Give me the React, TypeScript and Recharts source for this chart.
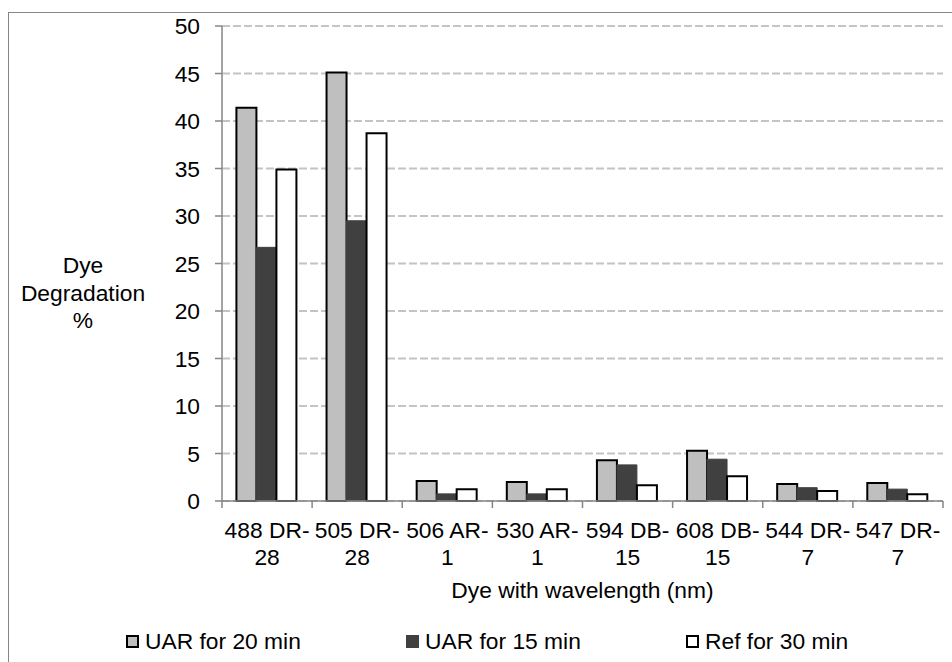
import React from 'react';
import { BarChart, Bar, XAxis, YAxis, CartesianGrid, Legend, Label } from 'recharts';

const categories = ['488 DR-28', '505 DR-28', '506 AR-1', '530 AR-1', '594 DB-15', '608 DB-15', '544 DR-7', '547 DR-7'];
const uar20 = [41.4, 45.1, 2.1, 2.0, 4.3, 5.3, 1.8, 1.9];
const uar15 = [26.7, 29.5, 0.75, 0.75, 3.8, 4.4, 1.4, 1.25];
const ref30 = [34.9, 38.7, 1.25, 1.25, 1.65, 2.6, 1.05, 0.7];
const yTicks = [0, 5, 10, 15, 20, 25, 30, 35, 40, 45, 50];
const seriesNames = ['UAR for 20 min', 'UAR for 15 min', 'Ref for 30 min'];
const xTitle = 'Dye with wavelength (nm)';
const yTitleLines = ['Dye', 'Degradation', '%'];

const data = categories.map((name, i) => ({ name, uar20: uar20[i], uar15: uar15[i], ref30: ref30[i] }));

const FONT = '"Liberation Sans", Arial, sans-serif';
const AXIS = '#868686';
const FS = 22.8;

function XTick(props: any) {
  const { x, y, index, payload, width } = props;
  const n = categories.length;
  const half = (width || 721) / n / 2;
  const label = String(payload.value);
  const m = label.match(/^(.*-)(\d+)$/);
  const lines = m ? [m[1], m[2]] : [label, ''];
  const axisY = y - 7;
  return (
    <g>
      <line x1={x - half} x2={x - half} y1={axisY} y2={axisY + 7} stroke={AXIS} strokeWidth={1.5} />
      {index === n - 1 && (
        <line x1={x + half} x2={x + half} y1={axisY} y2={axisY + 7} stroke={AXIS} strokeWidth={1.5} />
      )}
      <text x={x} y={y} textAnchor="middle" fontFamily={FONT} fontSize={FS} fill="#000">
        <tspan x={x} dy={30}>{lines[0]}</tspan>
        <tspan x={x} dy={27}>{lines[1]}</tspan>
      </text>
    </g>
  );
}

const legendStyles: Record<string, { fill: string; border: string }> = {
  [seriesNames[0]]: { fill: '#bfbfbf', border: '2px solid #000' },
  [seriesNames[1]]: { fill: '#404040', border: 'none' },
  [seriesNames[2]]: { fill: '#ffffff', border: '2px solid #000' },
};

function LegendContent() {
  return (
    <div style={{ display: 'flex', fontFamily: FONT, fontSize: FS, lineHeight: '24px', color: '#000' }}>
      {seriesNames.map((nm) => (
        <div key={nm} style={{ width: 280, display: 'flex', alignItems: 'center' }}>
          <span
            style={{
              display: 'inline-block',
              width: 13,
              height: 13,
              boxSizing: 'border-box',
              background: legendStyles[nm].fill,
              border: legendStyles[nm].border,
              marginRight: 6,
            }}
          />
          <span>{nm}</span>
        </div>
      ))}
    </div>
  );
}

export default function App() {
  return (
    <div style={{ position: 'fixed', left: 0, top: 0, width: 952, height: 662, overflow: 'hidden', background: '#fff' }}>
      <div
        style={{
          position: 'absolute',
          left: 8,
          top: 12,
          width: 2000,
          height: 2000,
          borderTop: `1px solid ${AXIS}`,
          borderLeft: `1px solid ${AXIS}`,
        }}
      />
      <div style={{ position: 'absolute', left: 8, top: 8 }}>
        <BarChart
          width={944}
          height={654}
          data={data}
          margin={{ top: 18, right: 9, left: 0, bottom: 0 }}
          barCategoryGap="16%"
          barGap={0}
          style={{ fontFamily: FONT }}
        >
          <CartesianGrid vertical={false} strokeDasharray="8 3" stroke="#c4c4c4" strokeWidth={2} />
          <XAxis
            dataKey="name"
            height={161}
            interval={0}
            tickLine={false}
            tickSize={7}
            tickMargin={0}
            axisLine={{ stroke: AXIS, strokeWidth: 1.5 }}
            tick={<XTick />}
          >
            <Label
              content={(p: any) => {
                const vb = p.viewBox || { x: 214, y: 493, width: 721 };
                return (
                  <text x={vb.x + vb.width / 2} y={vb.y + 97} textAnchor="middle" fontFamily={FONT} fontSize={FS} fill="#000">
                    {xTitle}
                  </text>
                );
              }}
            />
          </XAxis>
          <YAxis
            width={214}
            domain={[0, 50]}
            ticks={yTicks}
            interval={0}
            tickSize={7}
            tickMargin={15}
            axisLine={{ stroke: AXIS, strokeWidth: 1.5 }}
            tickLine={{ stroke: AXIS, strokeWidth: 1.5 }}
            tick={{ fontSize: FS, fill: '#000', fontFamily: FONT }}
          >
            <Label
              content={(p: any) => {
                const vb = p.viewBox || { x: 0 };
                const cx = vb.x + 75;
                return (
                  <text x={cx} y={265} textAnchor="middle" fontFamily={FONT} fontSize={FS} fill="#000">
                    {yTitleLines.map((t, i) => (
                      <tspan key={t} x={cx} dy={i === 0 ? 0 : 27.5}>
                        {t}
                      </tspan>
                    ))}
                  </text>
                );
              }}
            />
          </YAxis>
          <Legend
            verticalAlign="middle"
            align="center"
            layout="horizontal"
            wrapperStyle={{ top: 621, left: 118, width: 840, height: 24 }}
            content={() => <LegendContent />}
          />
          <Bar dataKey="uar20" name={seriesNames[0]} fill="#bfbfbf" stroke="#000" strokeWidth={2} isAnimationActive={false} />
          <Bar dataKey="uar15" name={seriesNames[1]} fill="#404040" stroke="#404040" strokeWidth={1} isAnimationActive={false} />
          <Bar dataKey="ref30" name={seriesNames[2]} fill="#ffffff" stroke="#000" strokeWidth={2} isAnimationActive={false} />
        </BarChart>
      </div>
    </div>
  );
}
